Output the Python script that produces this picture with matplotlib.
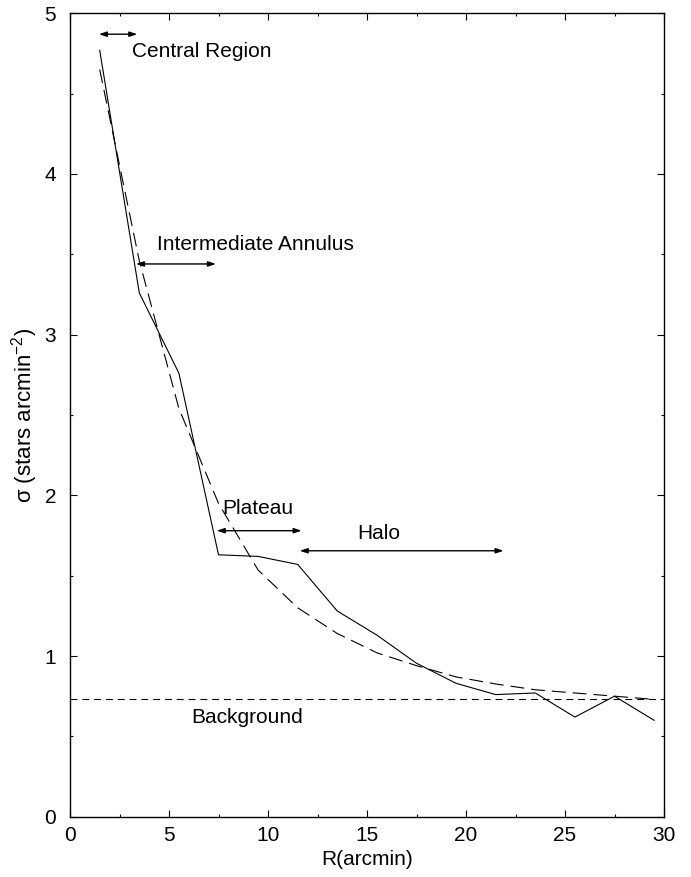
import matplotlib
matplotlib.use('Agg')
from matplotlib import pyplot as plt

# surface density profile
r = [1.5, 3.5, 5.5, 7.5, 9.5, 11.5, 13.5, 15.5, 17.5, 19.5, 21.5, 23.5, 25.5, 27.5, 29.5]
sigma = [4.77, 3.26, 2.76, 1.63, 1.62, 1.57, 1.28, 1.13, 0.955, 0.83, 0.76, 0.77, 0.62, 0.75, 0.60]
sigma_fit = [4.65, 3.46, 2.54, 1.95, 1.535, 1.30, 1.14, 1.02, 0.94, 0.87, 0.826, 0.79, 0.77, 0.75, 0.73]
background = 0.73

# region arrows: label, x start, x end, arrow y, text x, text y
regions = [
    ('Central Region', 1.46, 3.4, 4.87, 3.15, 4.76),
    ('Intermediate Annulus', 3.33, 7.37, 3.44, 4.38, 3.56),
    ('Plateau', 7.41, 11.7, 1.78, 7.71, 1.92),
    ('Halo', 11.6, 21.9, 1.655, 14.5, 1.76),
]

plt.rcParams['font.family'] = ['Liberation Sans', 'DejaVu Sans']
plt.rcParams['mathtext.fontset'] = 'custom'
plt.rcParams['mathtext.rm'] = 'Liberation Sans'
plt.rcParams['mathtext.it'] = 'Liberation Sans:italic'
plt.rcParams['lines.scale_dashes'] = False

fig = plt.figure(figsize=(6.91, 8.77), dpi=100)
ax = fig.add_axes([70 / 691, 1 - 816.7 / 877, 594 / 691, 803.4 / 877])

ax.plot(r, sigma, color='black', lw=0.8)
ax.plot(r, sigma_fit, color='black', lw=0.8, dashes=(10, 5))
ax.axhline(background, color='black', lw=0.8, dashes=(5, 3.5))

for label, x0, x1, ya, xt, yt in regions:
    ax.annotate('', xy=(x1, ya), xytext=(x0, ya),
                arrowprops=dict(arrowstyle='<|-|>,head_length=0.45,head_width=0.15',
                                color='black', lw=1.0, shrinkA=0, shrinkB=0))
    ax.text(xt, yt, label, fontsize=15, ha='left', va='center')
ax.text(6.1, 0.62, 'Background', fontsize=15, ha='left', va='center')

ax.set_xlim(0, 30)
ax.set_ylim(0, 5)
ax.set_xticks([0, 5, 10, 15, 20, 25, 30])
ax.set_xticks([2.5, 7.5, 12.5, 17.5, 22.5, 27.5], minor=True)
ax.set_yticks([0, 1, 2, 3, 4, 5])
ax.set_yticks([0.5, 1.5, 2.5, 3.5, 4.5], minor=True)
ax.tick_params(which='both', direction='in', top=True, right=True, labelsize=15, width=0.8)
ax.tick_params(which='major', length=5)
ax.tick_params(which='minor', length=2.4)
ax.tick_params(axis='x', pad=7)
ax.tick_params(axis='y', pad=10)
for s in ax.spines.values():
    s.set_linewidth(1.0)

ax.set_xlabel('R(arcmin)', fontsize=15, labelpad=3)
ax.set_ylabel(r'σ (stars arcmin$^{-2}$)', fontsize=16)
ax.yaxis.set_label_coords(-0.05, 0.5)

fig.savefig('out.png', dpi=100)
